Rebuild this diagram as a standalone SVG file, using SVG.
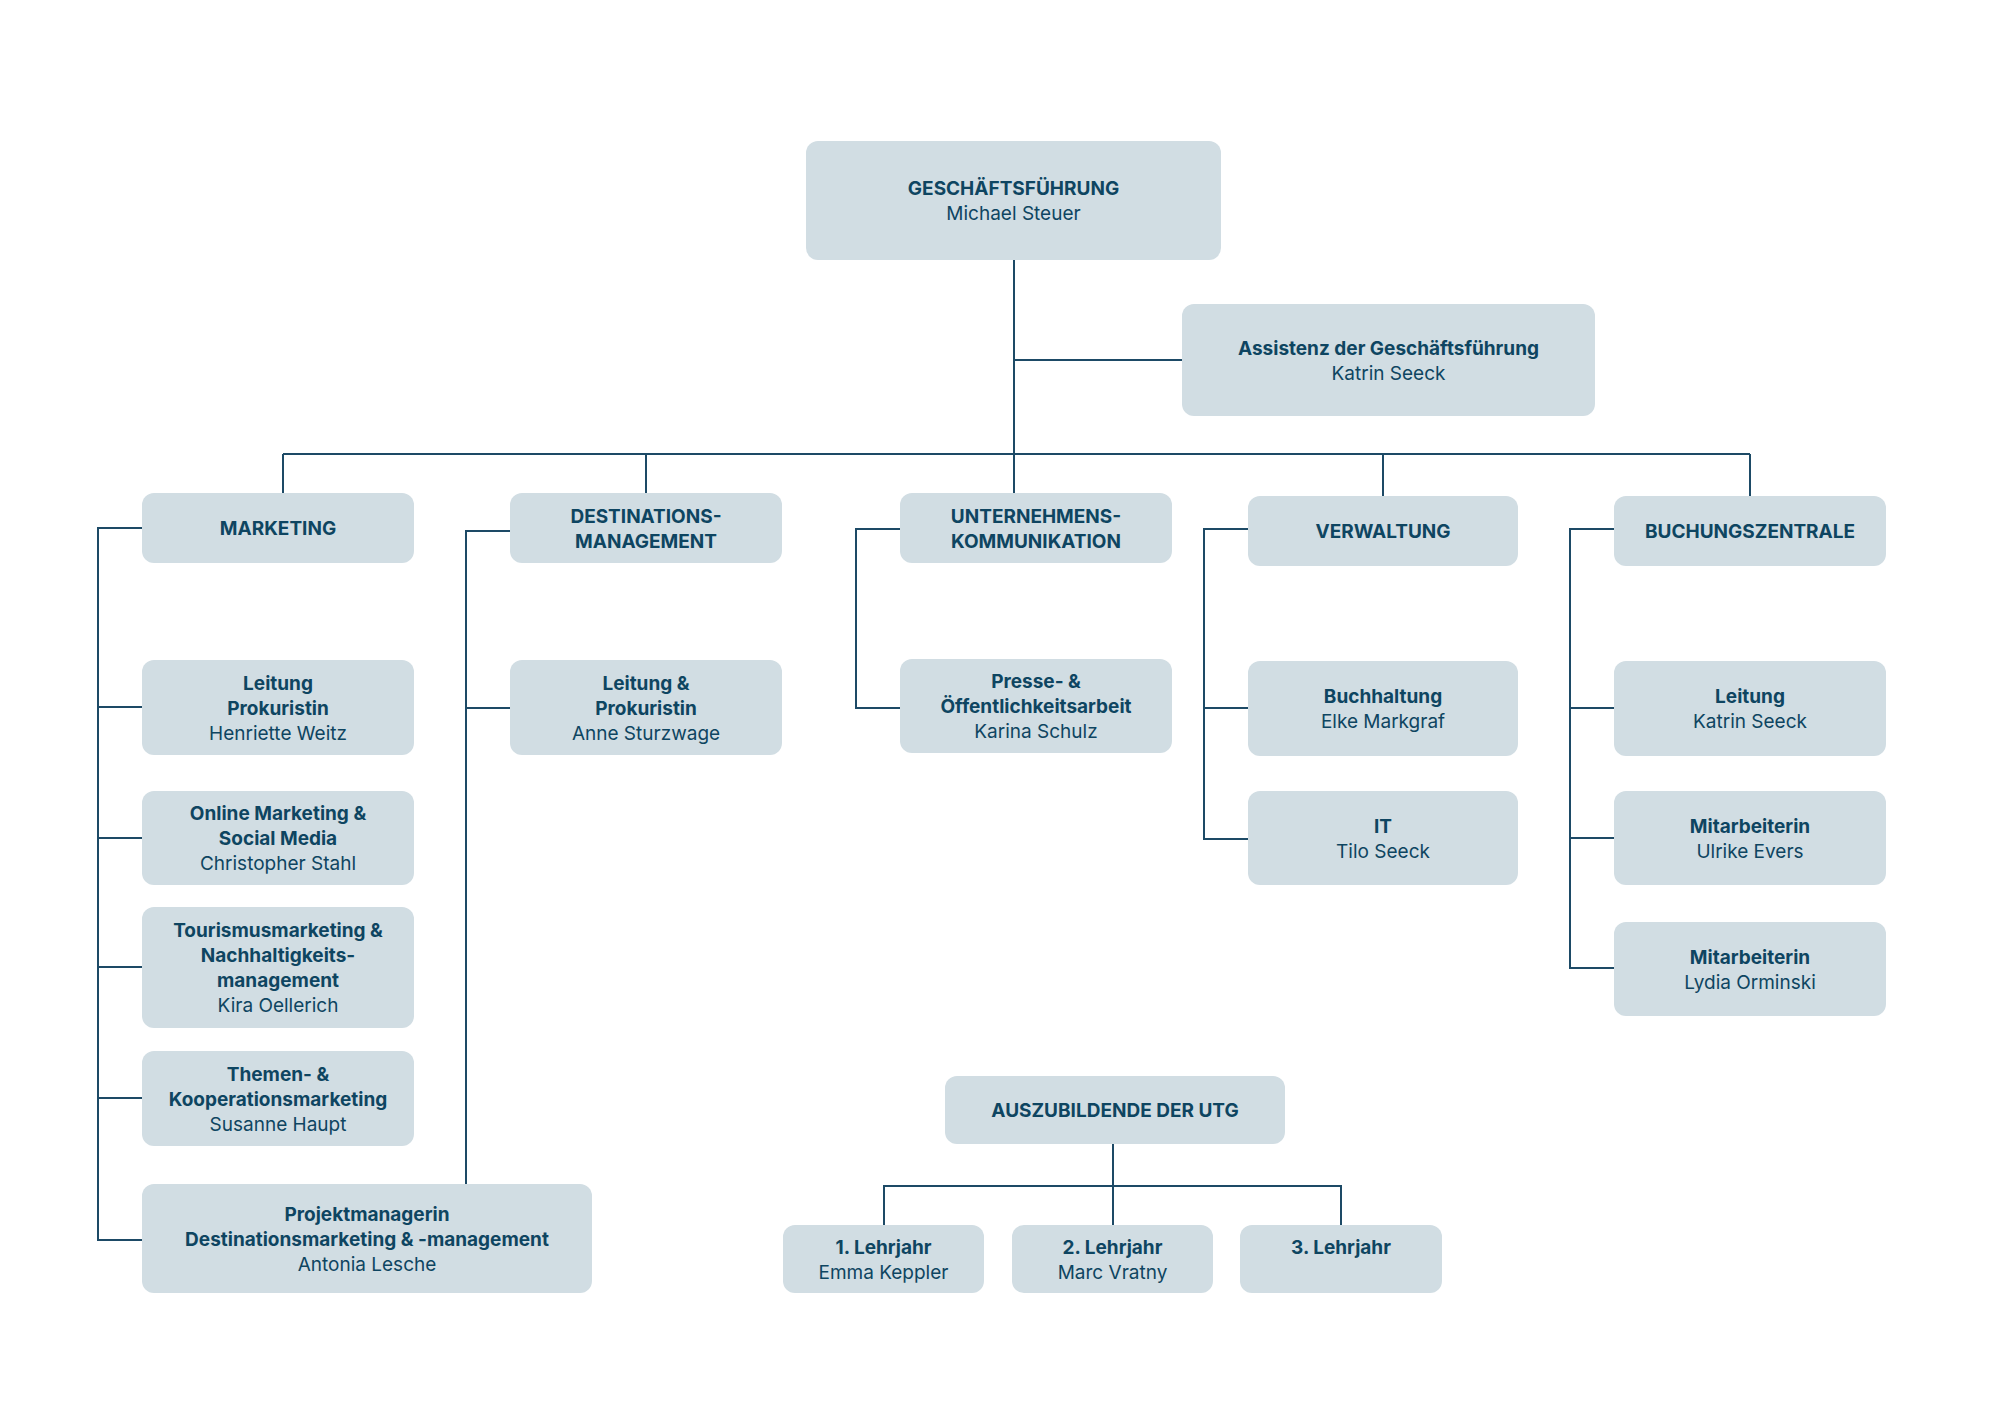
<svg xmlns="http://www.w3.org/2000/svg" width="2000" height="1414" viewBox="0 0 2000 1414">
<style>
.b{fill:#d1dde3}
text{font-family:Inter,"Open Sans","Liberation Sans",sans-serif;font-size:19px;fill:#0e4561;text-anchor:middle}
.t{font-weight:700}
.c{fill:none;stroke:#1d4a66;stroke-width:2}
</style>
<rect width="2000" height="1414" fill="#fff"/>
<g id="connectors" class="c">
<path d="M1014 260V454M1014 360H1182M283 454H1750M283 454V493M646 454V493M1014 454V493M1383 454V496M1750 454V496"/>
<path d="M142 528H98V1240H142M98 707H142M98 838H142M98 967H142M98 1098H142"/>
<path d="M510 531H466V1184M466 708H510"/>
<path d="M900 529H856V708H900"/>
<path d="M1248 529H1204V839H1248M1204 708H1248"/>
<path d="M1614 529H1570V968H1614M1570 708H1614M1570 838H1614"/>
<path d="M1113 1144V1186M884 1225V1186H1341V1225M1113 1186V1225"/>
</g>
<g id="gf"><rect class="b" x="806" y="141" width="415" height="119" rx="12"/><text x="1013.5" y="195" class="t">GESCHÄFTSFÜHRUNG</text><text x="1013.5" y="220">Michael Steuer</text></g>
<g id="assistenz"><rect class="b" x="1182" y="304" width="413" height="112" rx="12"/><text x="1388.5" y="354.5" class="t">Assistenz der Geschäftsführung</text><text x="1388.5" y="379.5">Katrin Seeck</text></g>
<g id="marketing"><rect class="b" x="142" y="493" width="272" height="70" rx="12"/><text x="278" y="535" class="t">MARKETING</text></g>
<g id="dest"><rect class="b" x="510" y="493" width="272" height="70" rx="12"/><text x="646" y="522.5" class="t">DESTINATIONS-</text><text x="646" y="547.5" class="t">MANAGEMENT</text></g>
<g id="uk"><rect class="b" x="900" y="493" width="272" height="70" rx="12"/><text x="1036" y="522.5" class="t">UNTERNEHMENS-</text><text x="1036" y="547.5" class="t">KOMMUNIKATION</text></g>
<g id="verwaltung"><rect class="b" x="1248" y="496" width="270" height="70" rx="12"/><text x="1383" y="538" class="t">VERWALTUNG</text></g>
<g id="buchung"><rect class="b" x="1614" y="496" width="272" height="70" rx="12"/><text x="1750" y="538" class="t">BUCHUNGSZENTRALE</text></g>
<g id="m1"><rect class="b" x="142" y="660" width="272" height="95" rx="12"/><text x="278" y="689.5" class="t">Leitung</text><text x="278" y="714.5" class="t">Prokuristin</text><text x="278" y="739.5">Henriette Weitz</text></g>
<g id="m2"><rect class="b" x="142" y="791" width="272" height="94" rx="12"/><text x="278" y="820" class="t">Online Marketing &amp;</text><text x="278" y="845" class="t">Social Media</text><text x="278" y="870">Christopher Stahl</text></g>
<g id="m3"><rect class="b" x="142" y="907" width="272" height="121" rx="12"/><text x="278" y="937" class="t">Tourismusmarketing &amp;</text><text x="278" y="962" class="t">Nachhaltigkeits-</text><text x="278" y="987" class="t">management</text><text x="278" y="1012">Kira Oellerich</text></g>
<g id="m4"><rect class="b" x="142" y="1051" width="272" height="95" rx="12"/><text x="278" y="1080.5" class="t">Themen- &amp;</text><text x="278" y="1105.5" class="t">Kooperationsmarketing</text><text x="278" y="1130.5">Susanne Haupt</text></g>
<g id="m5"><rect class="b" x="142" y="1184" width="450" height="109" rx="12"/><text x="367" y="1220.5" class="t">Projektmanagerin</text><text x="367" y="1245.5" class="t">Destinationsmarketing &amp; -management</text><text x="367" y="1270.5">Antonia Lesche</text></g>
<g id="d1"><rect class="b" x="510" y="660" width="272" height="95" rx="12"/><text x="646" y="689.5" class="t">Leitung &amp;</text><text x="646" y="714.5" class="t">Prokuristin</text><text x="646" y="739.5">Anne Sturzwage</text></g>
<g id="u1"><rect class="b" x="900" y="659" width="272" height="94" rx="12"/><text x="1036" y="688" class="t">Presse- &amp;</text><text x="1036" y="713" class="t">Öffentlichkeitsarbeit</text><text x="1036" y="738">Karina Schulz</text></g>
<g id="v1"><rect class="b" x="1248" y="661" width="270" height="95" rx="12"/><text x="1383" y="703" class="t">Buchhaltung</text><text x="1383" y="728">Elke Markgraf</text></g>
<g id="v2"><rect class="b" x="1248" y="791" width="270" height="94" rx="12"/><text x="1383" y="832.5" class="t">IT</text><text x="1383" y="857.5">Tilo Seeck</text></g>
<g id="b1"><rect class="b" x="1614" y="661" width="272" height="95" rx="12"/><text x="1750" y="703" class="t">Leitung</text><text x="1750" y="728">Katrin Seeck</text></g>
<g id="b2"><rect class="b" x="1614" y="791" width="272" height="94" rx="12"/><text x="1750" y="832.5" class="t">Mitarbeiterin</text><text x="1750" y="857.5">Ulrike Evers</text></g>
<g id="b3"><rect class="b" x="1614" y="922" width="272" height="94" rx="12"/><text x="1750" y="963.5" class="t">Mitarbeiterin</text><text x="1750" y="988.5">Lydia Orminski</text></g>
<g id="azubi"><rect class="b" x="945" y="1076" width="340" height="68" rx="12"/><text x="1115" y="1117" class="t">AUSZUBILDENDE DER UTG</text></g>
<g id="l1"><rect class="b" x="783" y="1225" width="201" height="68" rx="12"/><text x="883.5" y="1253.5" class="t">1. Lehrjahr</text><text x="883.5" y="1278.5">Emma Keppler</text></g>
<g id="l2"><rect class="b" x="1012" y="1225" width="201" height="68" rx="12"/><text x="1112.5" y="1253.5" class="t">2. Lehrjahr</text><text x="1112.5" y="1278.5">Marc Vratny</text></g>
<g id="l3"><rect class="b" x="1240" y="1225" width="202" height="68" rx="12"/><text x="1341" y="1253.5" class="t">3. Lehrjahr</text></g>
</svg>
